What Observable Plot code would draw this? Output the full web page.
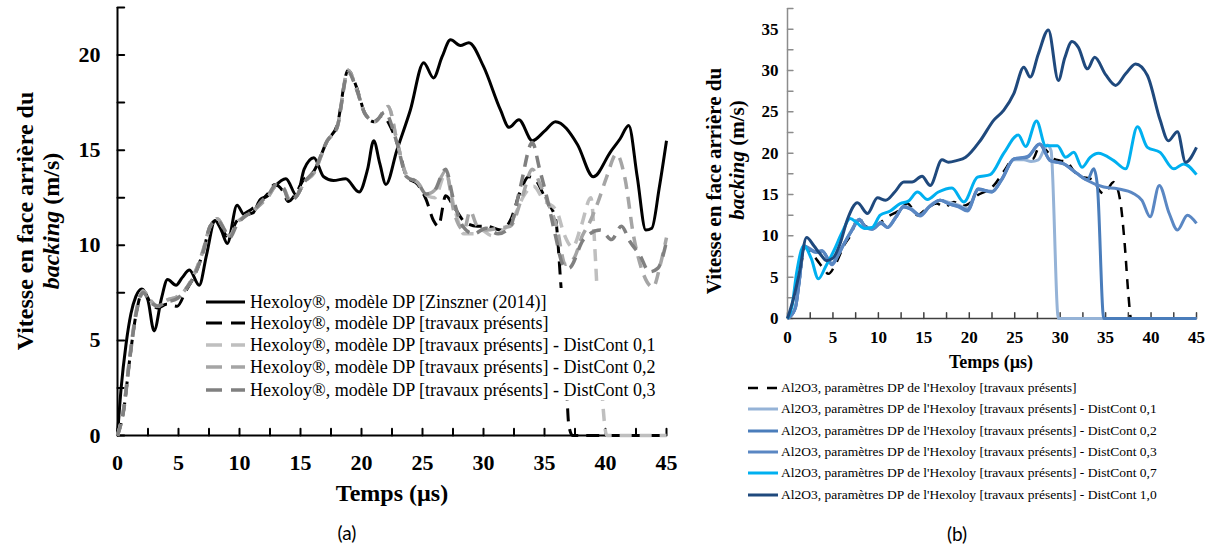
<!DOCTYPE html>
<html><head><meta charset="utf-8">
<script src="https://cdn.jsdelivr.net/npm/d3@7"></script>
<script src="https://cdn.jsdelivr.net/npm/@observablehq/plot@0.6"></script>
<style>
body{margin:0;background:#fff;}
#root{position:relative;width:1210px;height:544px;overflow:hidden;font-family:"Liberation Serif","Times New Roman",serif;color:#000;background:#fff}
.abs{position:absolute;white-space:nowrap}
.ctr{position:absolute;transform:translate(-50%,-50%);white-space:nowrap}
.rot{position:absolute;transform:translate(-50%,-50%) rotate(-90deg);white-space:nowrap;font-weight:bold}
.row{position:absolute;left:0;display:flex;align-items:center;white-space:nowrap}
.row svg{flex:none}
</style></head><body>
<div id="root">
  <div id="pa" class="abs" style="left:0;top:0"></div>
  <div id="pb" class="abs" style="left:690px;top:0"></div>

  <div class="rot" style="left:25px;top:221px;font-size:24px">Vitesse en face arrière du</div>
  <div class="rot" style="left:51px;top:221px;font-size:24px"><i>backing</i> (m/s)</div>
  <div class="ctr" style="left:392px;top:493px;font-size:24px;font-weight:bold">Temps (µs)</div>
  <div class="ctr" style="left:347px;top:532px;font-size:19px;font-family:Lato,'Open Sans',sans-serif">(a)</div>

  <div class="rot" style="left:714px;top:181px;font-size:21px">Vitesse en face arrière du</div>
  <div class="rot" style="left:737px;top:160px;font-size:21px"><i>backing</i> (m/s)</div>
  <div class="ctr" style="left:991px;top:362px;font-size:18px;font-weight:bold">Temps (µs)</div>
  <div class="ctr" style="left:957px;top:533px;font-size:19px;font-family:Lato,'Open Sans',sans-serif">(b)</div>

  <div id="legA" class="abs" style="left:200px;top:288px;width:466px;height:112px;background:#fff"></div>
  <div id="legB" class="abs" style="left:748px;top:377px;width:460px;height:130px"></div>
</div>
<script>
// ---------- Panel (a) data : Hexoloy ----------
const timeZinszner = [0,0.3,0.7,1.1,1.5,2.0,2.5,3.0,3.6,4.1,4.8,5.3,5.9,6.7,7.3,8.0,8.5,9.0,9.8,10.4,11.1,11.7,12.3,12.9,13.8,14.7,15.3,16.1,16.9,17.7,18.7,19.8,20.5,21.0,21.5,22.0,22.9,24.0,25.1,25.9,26.6,27.3,28.1,28.8,30.0,31.4,32.1,32.9,34.0,35.0,35.9,37.7,39.0,40.4,41.2,41.9,42.6,43.3,43.8,44.4,45];
const speedZinszner = [0,2.5,4.8,6.4,7.3,7.7,7.1,5.5,7.2,8.2,7.9,8.3,8.7,7.9,9.5,11.3,10.8,10.1,12.1,11.6,11.7,12.4,12.6,13.1,13.5,12.6,14.0,14.6,13.6,13.4,13.5,12.8,14.0,15.5,14.3,13.2,15.0,17.1,19.6,18.8,19.9,20.8,20.5,20.65,19.4,17.1,16.2,16.6,15.5,16.0,16.5,15.3,13.6,14.9,15.6,16.3,13.6,10.8,10.9,13.0,15.5];

const timePresent = [0,0.5,1.0,1.5,2.1,2.7,3.3,4.0,4.9,5.6,6.3,7.0,7.6,8.1,8.6,9.1,9.7,10.3,11.0,11.7,12.3,12.9,13.5,14.0,14.6,15.2,16.1,17.2,18.0,18.9,19.6,20.3,21.0,21.7,22.4,23.0,23.7,24.6,25.3,25.9,26.3,26.9,27.6,28.5,29.5,30.3,31.4,32.2,33.0,33.7,34.3,35.1,35.9,36.3,36.7,37.0,37.3,45];
const speedPresent = [0,1.3,4.0,6.3,7.6,7.0,6.7,6.9,6.8,7.6,8.4,9.6,11.0,11.3,10.8,10.4,11.2,11.6,11.9,12.3,12.7,13.2,12.9,12.3,12.7,13.4,13.9,15.5,16.3,19.2,18.3,16.9,16.5,16.8,16.2,15.2,13.6,13.2,12.4,11.3,11.0,12.6,12.0,11.2,11.0,11.0,10.8,11.3,12.8,13.6,13.4,12.4,11.4,8.3,4.2,0.5,0,0];

const timeDist01 = [0,0.5,1.0,1.5,2.1,2.7,3.3,4.0,4.9,5.6,6.3,7.0,7.6,8.2,8.7,9.2,9.8,10.4,11.1,11.8,12.4,13.0,13.6,14.1,14.7,15.3,16.1,17.2,18.0,18.9,19.6,20.3,21.1,22.2,22.9,23.7,24.6,25.4,26.0,26.9,27.6,28.4,29.2,29.8,30.7,31.6,32.5,33.3,34.1,34.9,36.0,36.6,37.3,38.0,38.8,39.2,39.5,39.8,40.1,45];
const speedDist01 = [0,1.4,4.1,6.4,7.6,7.1,6.8,7.1,7.3,7.7,8.5,9.7,11.0,11.4,10.9,10.5,11.2,11.5,11.8,12.2,12.6,13.1,13.0,12.4,12.6,13.3,13.8,15.5,16.2,19.2,18.2,16.9,16.5,17.3,15.5,13.7,13.3,12.6,12.5,13.8,12.0,10.6,10.6,10.8,10.5,10.8,11.5,12.6,13.1,12.4,11.8,10.6,9.9,11.0,12.5,9.0,5.0,1.5,0,0];

const timeDist02 = [0,0.5,1.0,1.5,2.1,2.7,3.3,4.0,4.9,5.6,6.3,7.0,7.6,8.2,8.7,9.2,9.8,10.4,11.1,11.8,12.4,13.0,13.6,14.1,14.7,15.3,16.1,17.2,18.0,18.9,19.6,20.3,21.1,22.2,22.9,23.7,24.6,25.4,26.0,26.9,27.6,28.4,28.9,29.5,30.3,31.2,32.2,33.2,34.0,34.7,35.3,36.0,36.7,37.4,38.1,38.7,39.4,40.1,40.9,41.6,42.3,43.1,43.9,44.5,45];
const speedDist02 = [0,1.4,4.1,6.4,7.6,7.1,6.8,7.1,7.3,7.7,8.5,9.7,11.0,11.4,10.9,10.5,11.2,11.5,11.8,12.2,12.6,13.1,13.0,12.4,12.6,13.3,13.8,15.5,16.2,19.2,18.2,16.9,16.5,17.3,15.5,13.7,13.3,12.7,12.9,13.9,11.7,10.8,11.8,11.0,10.8,10.9,11.0,12.6,14.0,13.1,12.2,11.0,9.0,9.3,10.5,11.2,12.3,13.6,14.8,13.5,10.5,8.5,7.8,9.0,10.4];

const timeDist03 = [0,0.5,1.0,1.5,2.1,2.7,3.3,4.0,4.9,5.6,6.3,7.0,7.6,8.2,8.7,9.2,9.8,10.4,11.1,11.8,12.4,13.0,13.6,14.1,14.7,15.3,16.1,17.2,18.0,18.9,19.6,20.3,21.1,21.9,22.9,23.7,24.6,25.3,25.9,26.9,27.5,28.3,29.2,30.2,31.2,32.2,33.0,34.0,34.6,35.2,35.9,36.5,37.0,38.2,39.6,40.5,41.3,42.0,42.8,43.6,44.3,45];
const speedDist03 = [0,1.3,4.0,6.3,7.5,7.0,6.8,7.0,7.2,7.7,8.4,9.6,11.0,11.3,10.9,10.4,11.1,11.5,11.8,12.3,12.7,13.2,13.0,12.3,12.6,13.3,13.9,15.5,16.2,19.1,18.2,16.9,16.5,17.0,15.4,13.6,13.3,12.7,12.8,14.0,12.5,11.0,10.6,10.9,10.6,11.0,13.0,15.4,14.0,12.5,10.5,9.0,8.8,10.3,10.8,10.3,11.0,10.2,9.5,8.6,8.8,10.2];

const labelsA = [
  "Hexoloy®, modèle DP [Zinszner (2014)]",
  "Hexoloy®, modèle DP [travaux présents]",
  "Hexoloy®, modèle DP [travaux présents] - DistCont 0,1",
  "Hexoloy®, modèle DP [travaux présents] - DistCont 0,2",
  "Hexoloy®, modèle DP [travaux présents] - DistCont 0,3"
];
const xTicksA = [0,5,10,15,20,25,30,35,40,45];
const yTicksA = [0,5,10,15,20];
const xMinorA = [0,2.5,5,7.5,10,12.5,15,17.5,20,22.5,25,27.5,30,32.5,35,37.5,40,42.5,45];
const yMinorA = [0,2.5,5,7.5,10,12.5,15,17.5,20,22.5];

// ---------- Panel (b) data : Al2O3 ----------
const timeAlPresent = [0,0.5,0.9,1.3,1.9,2.6,3.3,4.0,4.5,5.3,6.2,7.0,7.8,8.5,9.2,10.2,11.0,12.2,13.2,14.3,15.3,16.4,17.3,18.3,19.2,20.0,20.9,22.0,22.7,23.8,24.9,26.2,27.0,27.8,28.5,29.3,30.0,30.7,31.4,32.2,33.0,33.7,34.3,34.8,35.9,36.6,37.1,37.5,37.8,45];
const speedAlPresent = [0,0.5,1.5,4.5,8.6,8.0,7.0,6.0,5.4,6.6,8.8,10.2,12.3,11.2,11.0,11.6,12.3,13.0,13.9,12.5,13.3,13.9,13.5,14.1,13.6,13.9,14.9,15.5,16.1,17.8,19.3,19.2,19.3,21.0,20.3,19.3,19.1,19.0,18.0,17.1,17.0,16.7,15.5,15.1,16.5,14.3,9.0,3.0,0,0];

const timeAl01 = [0,0.5,0.9,1.3,1.8,2.4,3.1,3.8,4.9,5.5,6.2,7.0,7.9,8.6,9.3,10.3,11.0,11.9,12.8,13.6,14.6,15.6,16.8,17.9,18.8,19.8,21.0,22.5,23.6,24.9,26.0,26.8,27.6,28.6,29.0,29.8,30.2,45];
const speedAl01 = [0,0.5,1.5,4.6,8.7,8.4,8.0,8.1,6.7,7.6,9.0,10.6,12.0,11.0,10.9,11.6,11.0,12.3,13.5,13.3,12.5,13.6,14.3,14.0,13.7,13.3,15.6,15.4,16.8,19.2,19.2,19.0,19.2,21.0,20.3,0,0,0];

const timeAl02 = [0,0.5,0.9,1.3,1.8,2.4,3.1,3.8,4.9,5.5,6.2,7.0,7.9,8.6,9.3,10.3,11.0,11.9,12.8,13.6,14.6,15.6,16.8,17.9,18.8,19.8,21.0,22.5,23.6,24.9,26.4,27.7,28.9,30.4,31.9,33.0,33.7,34.1,34.8,35.2,45];
const speedAl02 = [0,0.5,1.4,4.5,8.8,8.4,8.0,8.2,6.6,7.5,9.0,10.5,11.9,11.1,10.8,11.5,11.0,12.2,13.5,13.2,12.5,13.5,14.3,13.8,13.6,13.1,15.7,15.3,16.9,19.3,19.5,21.1,19.1,18.7,17.5,16.8,18.1,16.0,0,0,0];

const timeAl03 = [0,0.5,0.9,1.3,1.8,2.4,3.1,3.8,4.9,5.5,6.2,7.0,7.9,8.6,9.3,10.3,11.0,11.9,12.8,13.6,14.6,15.6,16.8,17.9,18.8,19.8,21.0,22.5,23.6,24.9,26.4,27.8,28.9,30.4,31.9,33.0,34.8,36.3,38.1,39.0,39.9,40.9,42.0,42.9,44.0,45];
const speedAl03 = [0,0.5,1.4,4.5,8.8,8.5,8.1,8.2,6.5,7.5,9.0,10.5,12.0,11.0,10.8,11.6,11.0,12.2,13.6,13.2,12.4,13.5,14.3,13.8,13.5,13.0,15.6,15.3,16.9,19.3,19.6,21.1,19.1,18.7,17.5,16.7,15.9,15.7,15.1,14.3,12.3,16.1,12.7,10.7,12.5,11.5];

const timeAl07 = [0,0.5,1.0,1.8,2.6,3.4,4.2,5.1,6.0,6.9,7.6,8.5,9.3,10.2,11.3,12.4,13.3,14.3,15.4,16.6,18.1,19.4,20.9,22.3,23.8,25.4,26.2,27.4,28.4,29.7,30.6,31.5,32.4,33.3,34.2,35.9,37.2,38.5,39.6,41.0,42.5,43.6,45];
const speedAl07 = [0,1.5,5.5,8.8,7.3,4.8,6.3,8.2,10.4,12.1,11.6,10.9,11.0,12.5,13.0,13.9,14.2,15.3,14.4,15.3,15.8,14.1,17.1,17.4,20.0,22.2,20.8,23.9,20.9,20.9,19.5,20.1,18.3,19.5,20.0,19.1,18.1,23.2,20.7,20.1,18.1,18.7,17.4];

const timeAl10 = [0,0.7,1.3,2.1,2.9,3.6,4.3,5.0,5.8,6.6,7.7,8.8,9.9,10.8,11.8,12.8,13.7,14.8,15.7,17.0,17.7,18.6,19.6,21.2,22.7,23.8,24.9,26.0,26.7,27.6,28.7,29.8,30.5,31.3,32.0,33.0,33.8,35.0,36.1,37.2,38.3,39.6,41.0,41.9,42.9,43.8,45];
const speedAl10 = [0,2.6,5.5,9.8,8.8,7.8,7.0,7.3,9.1,12.0,14.0,12.7,14.6,14.3,15.3,16.5,16.5,17.2,16.1,19.2,18.9,19.1,19.5,21.5,24.0,25.2,27.2,30.4,29.2,32.0,34.9,28.8,31.5,33.5,32.8,30.2,31.6,29.5,28.2,29.6,30.8,29.4,24.0,21.5,22.6,18.9,20.7];

const labelsB = [
  "Al2O3, paramètres DP de l'Hexoloy [travaux présents]",
  "Al2O3, paramètres DP de l'Hexoloy [travaux présents] - DistCont 0,1",
  "Al2O3, paramètres DP de l'Hexoloy [travaux présents] - DistCont 0,2",
  "Al2O3, paramètres DP de l'Hexoloy [travaux présents] - DistCont 0,3",
  "Al2O3, paramètres DP de l'Hexoloy [travaux présents] - DistCont 0,7",
  "Al2O3, paramètres DP de l'Hexoloy [travaux présents] - DistCont 1,0"
];
const xTicksB = [0,5,10,15,20,25,30,35,40,45];
const yTicksB = [0,5,10,15,20,25,30,35];
const xMinorB = [0,2.5,5,7.5,10,12.5,15,17.5,20,22.5,25,27.5,30,32.5,35,37.5,40,42.5,45];
const yMinorB = [0,2.5,5,7.5,10,12.5,15,17.5,20,22.5,25,27.5,30,32.5,35,37.5];

// ---------- helpers ----------
const rows = (T, V) => T.map((t, i) => ({t, v: V[i]}));

const seriesA = [
  {T: timeZinszner, V: speedZinszner, stroke: "#000000", w: 3, dash: null},
  {T: timePresent, V: speedPresent, stroke: "#000000", w: 3, dash: "13,8"},
  {T: timeDist01, V: speedDist01, stroke: "#bfbfbf", w: 3.5, dash: "12,8"},
  {T: timeDist02, V: speedDist02, stroke: "#a5a5a5", w: 3.5, dash: "12,8"},
  {T: timeDist03, V: speedDist03, stroke: "#808080", w: 3.5, dash: "12,8"}
];
const seriesB = [
  {T: timeAlPresent, V: speedAlPresent, stroke: "#000000", w: 2.5, dash: "10,8"},
  {T: timeAl01, V: speedAl01, stroke: "#95b3d7", w: 3, dash: null},
  {T: timeAl02, V: speedAl02, stroke: "#4a7dbb", w: 3, dash: null},
  {T: timeAl03, V: speedAl03, stroke: "#5a87c3", w: 3, dash: null},
  {T: timeAl07, V: speedAl07, stroke: "#00b0f0", w: 3, dash: null},
  {T: timeAl10, V: speedAl10, stroke: "#1f497d", w: 3, dash: null}
];

const lineMarks = (S) => S.map(s => Plot.line(rows(s.T, s.V), {
  x: "t", y: "v", stroke: s.stroke, strokeWidth: s.w,
  strokeDasharray: s.dash ?? undefined, curve: "monotone-x", strokeLinecap: "butt"
}));

// inward tick marks as short two-point lines through the panel's scales
const tickLines = (xs, ys, lenY, lenX, colorX, colorY, w) => [
  ...xs.map(t => Plot.line([{a: t, b: 0}, {a: t, b: lenY}], {x: "a", y: "b", stroke: colorX, strokeWidth: w})),
  ...ys.map(v => Plot.line([{a: 0, b: v}, {a: lenX, b: v}], {x: "a", y: "b", stroke: colorY, strokeWidth: w}))
];

// ---------- Panel (a) ----------
const plotA = Plot.plot({
  width: 690, height: 500,
  marginLeft: 117, marginRight: 24, marginTop: 7, marginBottom: 65,
  x: {domain: [0, 45]},
  y: {domain: [0, 22.5]},
  style: {fontFamily: "Liberation Serif, Times New Roman, serif", background: "transparent", overflow: "visible", color: "#000"},
  marks: [
    Plot.axisX(xTicksA, {tickSize: 0, tickPadding: 19, fontSize: 22, fontWeight: "bold", label: null}),
    Plot.axisY(yTicksA, {tickSize: 0, tickPadding: 17, fontSize: 22, fontWeight: "bold", label: null}),
    ...tickLines(xMinorA, yMinorA, 0.35, 0.55, "#000", "#000", 2),
    Plot.ruleX([0], {strokeWidth: 2}),
    Plot.ruleY([0], {strokeWidth: 2}),
    ...lineMarks(seriesA)
  ]
});
document.getElementById("pa").append(plotA);

// ---------- Panel (b) ----------
const plotB = Plot.plot({
  width: 520, height: 350,
  marginLeft: 97, marginRight: 14, marginTop: 8, marginBottom: 32,
  x: {domain: [0, 45]},
  y: {domain: [0, 37.5]},
  style: {fontFamily: "Liberation Serif, Times New Roman, serif", background: "transparent", overflow: "visible", color: "#000"},
  marks: [
    Plot.axisX(xTicksB, {tickSize: 0, tickPadding: 12, fontSize: 17, fontWeight: "bold", label: null}),
    Plot.axisY(yTicksB, {tickSize: 0, tickPadding: 9, fontSize: 17, fontWeight: "bold", label: null}),
    ...tickLines(xMinorB, yMinorB, 0.7, 0.6, "#404040", "#8c8c8c", 1.5),
    Plot.ruleX([0], {stroke: "#8c8c8c", strokeWidth: 1.5}),
    Plot.ruleY([0], {stroke: "#404040", strokeWidth: 1.5}),
    ...lineMarks(seriesB)
  ]
});
document.getElementById("pb").append(plotB);

// ---------- Legends ----------
function swatch(s, w, h) {
  const ns = "http://www.w3.org/2000/svg";
  const svg = document.createElementNS(ns, "svg");
  svg.setAttribute("width", w); svg.setAttribute("height", h);
  const ln = document.createElementNS(ns, "line");
  ln.setAttribute("x1", 0); ln.setAttribute("x2", w);
  ln.setAttribute("y1", h / 2); ln.setAttribute("y2", h / 2);
  ln.setAttribute("stroke", s.stroke); ln.setAttribute("stroke-width", s.w);
  if (s.dash) ln.setAttribute("stroke-dasharray", s.legendDash);
  svg.append(ln);
  return svg;
}
const legA = document.getElementById("legA");
const centersA = [14, 35, 57, 79, 102];
seriesA.forEach((s, i) => {
  const r = document.createElement("div");
  r.className = "row";
  r.style.top = (centersA[i] - 11) + "px"; r.style.height = "22px"; r.style.left = "6px";
  r.append(swatch({...s, legendDash: "16,9"}, 39, 22));
  const t = document.createElement("span");
  t.textContent = labelsA[i]; t.style.fontSize = "18px"; t.style.marginLeft = "5px";
  r.append(t); legA.append(r);
});
const legB = document.getElementById("legB");
seriesB.forEach((s, i) => {
  const r = document.createElement("div");
  r.className = "row";
  r.style.top = (11 + i * 21.3 - 10) + "px"; r.style.height = "20px"; r.style.left = "0px";
  r.append(swatch({...s, legendDash: "10,9"}, 30, 20));
  const t = document.createElement("span");
  t.textContent = labelsB[i]; t.style.fontSize = "13.5px"; t.style.marginLeft = "3px";
  r.append(t); legB.append(r);
});
</script>
</body></html>
